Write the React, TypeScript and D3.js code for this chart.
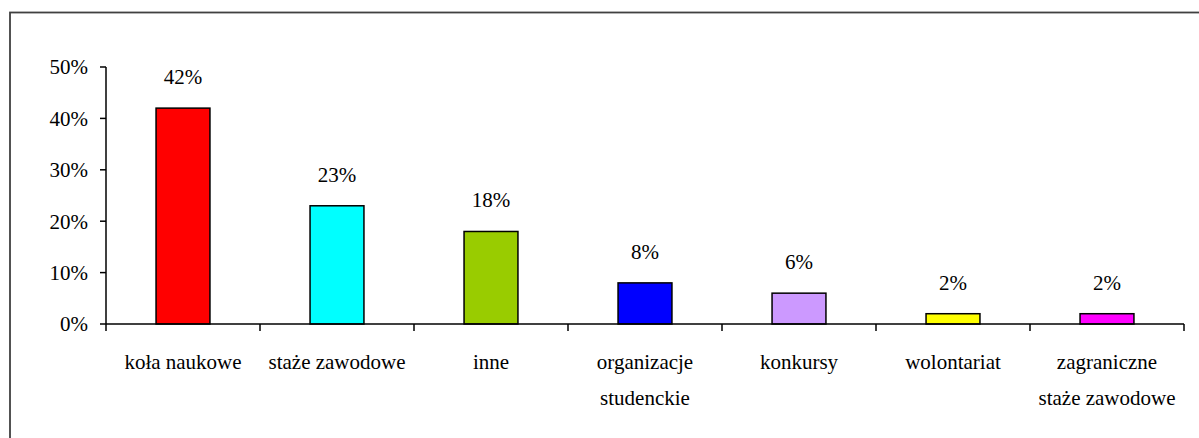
import React from "react";
import * as d3 from "d3";

const categories: string[][] = [
  ["koła naukowe"],
  ["staże zawodowe"],
  ["inne"],
  ["organizacje", "studenckie"],
  ["konkursy"],
  ["wolontariat"],
  ["zagraniczne", "staże zawodowe"],
];
const values: number[] = [42, 23, 18, 8, 6, 2, 2];
const colors: string[] = ["#FF0000", "#00FFFF", "#99CC00", "#0000FF", "#CC99FF", "#FFFF00", "#FF00FF"];
const yTicks: number[] = [0, 10, 20, 30, 40, 50];

const W = 1199;
const H = 438;
const FONT =
  "'Liberation Serif', 'Times New Roman', Times, 'DejaVu Serif', 'Noto Serif', Tinos, FreeSerif, 'Nimbus Roman', 'Nimbus Roman No9 L', serif";

export default function App() {
  const left = 106, right = 1184, top = 67, bottom = 324;
  const x = d3.scaleBand<number>().domain(d3.range(categories.length)).range([left, right]).paddingInner(0).paddingOuter(0);
  const y = d3.scaleLinear().domain([0, 50]).range([bottom, top]);
  const bw = x.bandwidth() * 0.35;
  const ticksX = d3.range(categories.length + 1).map((i) => left + i * x.step());
  const ts = { fontFamily: FONT, fontSize: "21px" } as React.CSSProperties;

  return (
    <svg width={W} height={H} style={{ position: "absolute", left: 0, top: 0, display: "block" }}>
      <rect x={0} y={0} width={W} height={H} fill="#fff" />
      <rect x={10} y={12.5} width={W + 20} height={H + 20} fill="none" stroke="#404040" strokeWidth={1.8} />
      <line x1={left} x2={left} y1={top} y2={bottom} stroke="#000" strokeWidth={1.5} />
      {yTicks.map((t) => (
        <g key={t}>
          <line x1={left - 6} x2={left} y1={y(t)} y2={y(t)} stroke="#000" strokeWidth={1.5} />
          <text x={left - 18} y={y(t)} dy="0.35em" textAnchor="end" style={ts} fill="#000">
            {t}%
          </text>
        </g>
      ))}
      {values.map((v, i) => {
        const cx = (x(i) as number) + x.bandwidth() / 2;
        return (
          <g key={i}>
            <rect x={cx - bw / 2} y={y(v)} width={bw} height={bottom - y(v)} fill={colors[i]} stroke="#000" strokeWidth={1.5} />
            <text x={cx} y={y(v) - 24} textAnchor="middle" style={ts} fill="#000">
              {v}%
            </text>
            {categories[i].map((line, j) => (
              <text key={j} x={cx} y={369 + j * 36} textAnchor="middle" style={ts} fill="#000">
                {line}
              </text>
            ))}
          </g>
        );
      })}
      <line x1={left} x2={right} y1={bottom} y2={bottom} stroke="#000" strokeWidth={1.5} />
      {ticksX.map((tx, i) => (
        <line key={i} x1={tx} x2={tx} y1={bottom} y2={bottom + 7} stroke="#000" strokeWidth={1.5} />
      ))}
    </svg>
  );
}
